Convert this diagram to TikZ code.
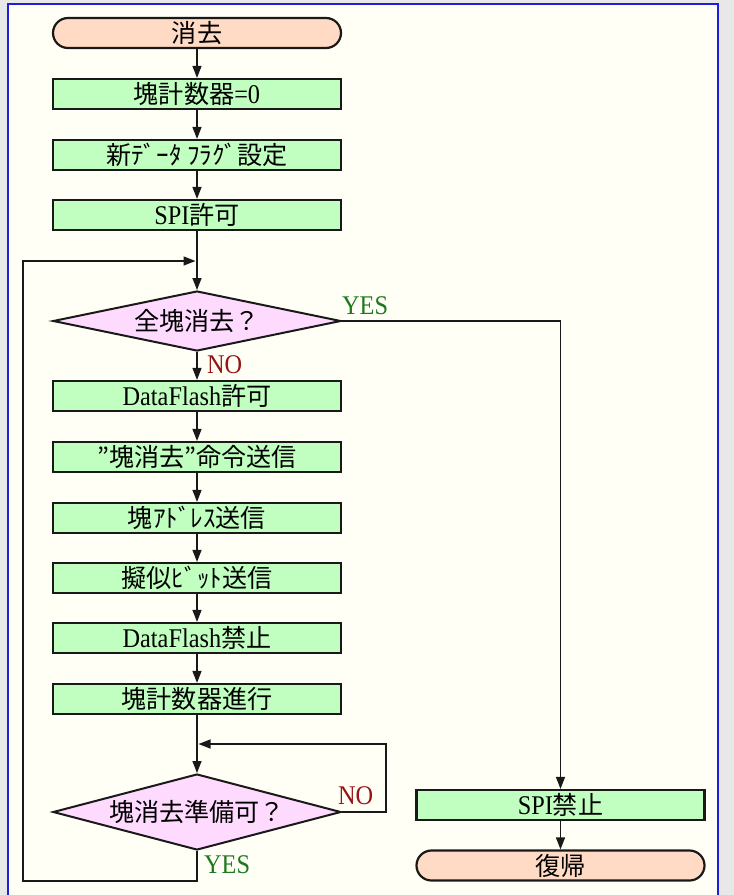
\documentclass[tikz,border=0pt]{standalone}
\usepackage{fontspec}
\setmainfont{Liberation Serif}[FakeStretch=0.9]
\newfontfamily\cjk{Noto Sans CJK JP}[Scale=0.93]
\usetikzlibrary{arrows.meta,shapes.geometric}
\definecolor{bggray}{RGB}{232,232,232}
\definecolor{cream}{RGB}{255,255,246}
\definecolor{frameblue}{RGB}{30,30,220}
\definecolor{boxgreen}{RGB}{192,255,192}
\definecolor{termcol}{RGB}{255,218,196}
\definecolor{decpink}{RGB}{255,218,255}
\definecolor{yescol}{RGB}{30,120,30}
\definecolor{nocol}{RGB}{150,20,20}
\begin{document}
\begin{tikzpicture}[x=1pt,y=-1pt,
  font=\fontsize{27}{30}\selectfont,
  proc/.style={draw=black!90, line width=2.2pt, fill=boxgreen, minimum width=288pt, minimum height=30pt, inner sep=0pt},
  term/.style={proc, fill=termcol, rounded corners=15pt},
  dec/.style={diamond, draw=black!90, line width=2pt, fill=decpink, minimum width=288pt, inner sep=0pt},
  conn/.style={line width=1.4pt, draw=black!90},
  arr/.style={conn, -{Triangle[length=12pt,width=9pt]}},
  yes/.style={text=yescol, inner sep=0pt},
  no/.style={text=nocol, inner sep=0pt}]
\useasboundingbox (0,0) rectangle (734,895);
\fill[bggray] (0,0) rectangle (734,895);
\fill[cream] (8,4) rectangle (718,895);
\draw[frameblue, line width=2pt] (8,895) -- (8,4) -- (718,4) -- (718,895);

\node[term] (start) at (197,33) {\cjk 消去};
\node[proc] (b1) at (197,94) {{\cjk 塊計数器}=0};
\node[proc] (b2) at (197,155) {\cjk 新ﾃﾞｰﾀ ﾌﾗｸﾞ設定};
\node[proc] (b3) at (197,215) {SPI{\cjk 許可}};
\node[dec, minimum height=60pt, aspect=4.8] (d1) at (197,321) {\cjk 全塊消去？};
\node[proc] (b4) at (197,396) {DataFlash{\cjk 許可}};
\node[proc] (b5) at (197,457) {\cjk ”塊消去”命令送信};
\node[proc] (b6) at (197,518) {\cjk 塊ｱﾄﾞﾚｽ送信};
\node[proc] (b7) at (197,578) {\cjk 擬似ﾋﾞｯﾄ送信};
\node[proc] (b8) at (197,638) {DataFlash{\cjk 禁止}};
\node[proc] (b9) at (197,699) {\cjk 塊計数器進行};
\node[dec, minimum height=76pt, aspect=3.8] (d2) at (197,812) {\cjk 塊消去準備可？};
\node[proc] (e1) at (560.5,805) {SPI{\cjk 禁止}};
\node[term] (e2) at (560.5,865.5) {\cjk 復帰};

\coordinate (n1) at (386,744);
\coordinate (n2) at (198.5,744);
\coordinate (y1) at (23,881);
\coordinate (y2) at (195.5,261);

\draw[arr] (start) -- (b1);
\draw[arr] (b1) -- (b2);
\draw[arr] (b2) -- (b3);
\draw[arr] (b3) -- (d1);
\draw[arr] (d1) -- (b4);
\draw[arr] (b4) -- (b5);
\draw[arr] (b5) -- (b6);
\draw[arr] (b6) -- (b7);
\draw[arr] (b7) -- (b8);
\draw[arr] (b8) -- (b9);
\draw[arr] (b9) -- (d2);
\draw[arr] (d1.east) -| (e1.north);
\draw[arr] (e1) -- (e2);
\draw[arr] (d2.east) -| (n1) -- (n2);
\draw[arr] (d2.south) |- (y1) |- (y2);

\node[yes, anchor=south west] at ([xshift=0pt,yshift=6pt]d1.east) {YES};
\node[no, anchor=north west] at ([xshift=10pt,yshift=-3pt]d1.south) {NO};
\node[no, anchor=south west] at ([xshift=-4pt,yshift=7pt]d2.east) {NO};
\node[yes, anchor=north west] at ([xshift=7pt,yshift=-4pt]d2.south) {YES};
\end{tikzpicture}
\end{document}
